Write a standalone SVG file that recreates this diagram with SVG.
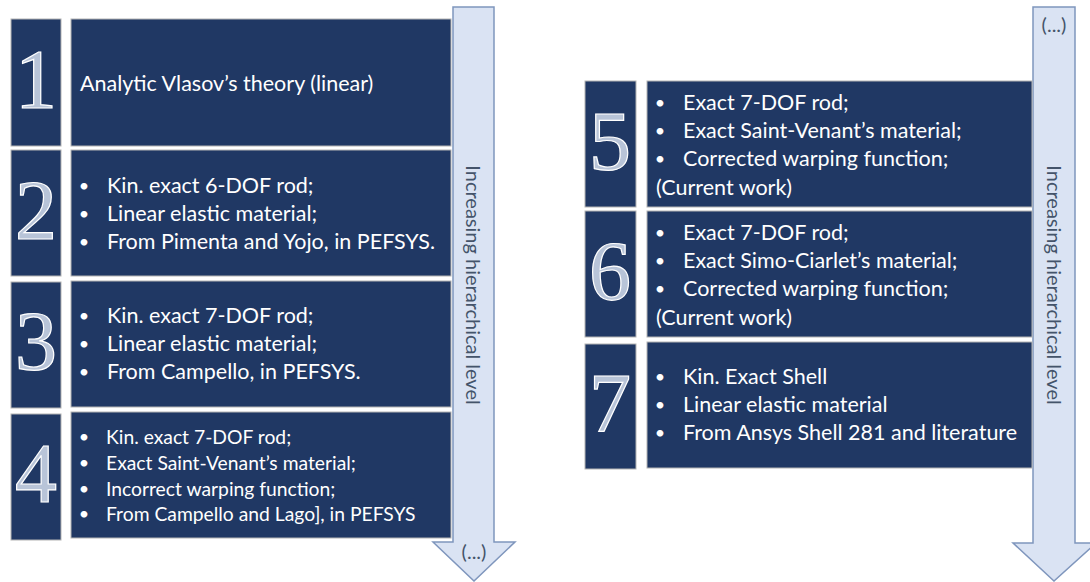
<svg xmlns="http://www.w3.org/2000/svg" width="1090" height="582" viewBox="0 0 1090 582">
<style>
.box{fill:#203864;stroke:#b4b4b4;stroke-width:1}
.num{font-family:"Liberation Serif",serif;font-size:84px;fill:#b8c4d8;stroke:#ffffff;stroke-width:1.2;text-anchor:middle}
.t{font-family:Lato,"Open Sans",sans-serif;font-size:21.5px;fill:#ffffff}
.s{font-family:Lato,"Open Sans",sans-serif;font-size:19.3px;fill:#ffffff}
.b{font-family:Lato,"Open Sans",sans-serif;font-size:18px;fill:#ffffff;text-anchor:middle}
.arr{fill:#dae3f3;stroke:#7f96bd;stroke-width:1.5}
.at{font-family:Lato,"Open Sans",sans-serif;font-size:20px;fill:#44546a;text-anchor:middle}
</style>
<rect width="1090" height="582" fill="#ffffff"/>
<g id="arrows">
<polygon class="arr" points="453,7 494,7 494,542 515,542 474,581 433,542 453,542"/>
<text class="at" transform="translate(473,285) rotate(90)" y="7">Increasing hierarchical level</text>
<text class="at" x="474" y="559">(...)</text>
<polygon class="arr" points="1033,7 1075,7 1075,543 1096,543 1054,581 1013,543 1033,543"/>
<text class="at" transform="translate(1054,285) rotate(90)" y="7">Increasing hierarchical level</text>
<text class="at" x="1054" y="32">(...)</text>
</g>
<g id="node1">
<rect class="box" x="11" y="19" width="50" height="127"/>
<rect class="box" x="71" y="19" width="380" height="127"/>
<text class="num" x="36" y="108">1</text>
<text class="t" x="80" y="91">Analytic Vlasov’s theory (linear)</text>
</g>
<g id="node2">
<rect class="box" x="11" y="150" width="50" height="126"/>
<rect class="box" x="71" y="150" width="380" height="126"/>
<text class="num" x="36" y="239">2</text>
<text class="b" x="84" y="192">•</text><text class="t" x="107" y="193">Kin. exact 6-DOF rod;</text>
<text class="b" x="84" y="220">•</text><text class="t" x="107" y="221">Linear elastic material;</text>
<text class="b" x="84" y="248">•</text><text class="t" x="107" y="249">From Pimenta and Yojo, in PEFSYS.</text>
</g>
<g id="node3">
<rect class="box" x="11" y="282" width="50" height="126"/>
<rect class="box" x="71" y="281" width="380" height="126"/>
<text class="num" x="36" y="370">3</text>
<text class="b" x="84" y="322">•</text><text class="t" x="107" y="323">Kin. exact 7-DOF rod;</text>
<text class="b" x="84" y="350">•</text><text class="t" x="107" y="351">Linear elastic material;</text>
<text class="b" x="84" y="378">•</text><text class="t" x="107" y="379">From Campello, in PEFSYS.</text>
</g>
<g id="node4">
<rect class="box" x="11" y="414" width="50" height="126"/>
<rect class="box" x="71" y="412" width="380" height="126"/>
<text class="num" x="36" y="502">4</text>
<text class="b" x="84" y="443">•</text><text class="s" x="106" y="444">Kin. exact 7-DOF rod;</text>
<text class="b" x="84" y="469">•</text><text class="s" x="106" y="470">Exact Saint-Venant’s material;</text>
<text class="b" x="84" y="495">•</text><text class="s" x="106" y="496">Incorrect warping function;</text>
<text class="b" x="84" y="520">•</text><text class="s" x="106" y="521">From Campello and Lago], in PEFSYS</text>
</g>
<g id="node5">
<rect class="box" x="585" y="81" width="51" height="126"/>
<rect class="box" x="647" y="81" width="385" height="126"/>
<text class="num" x="610" y="170">5</text>
<text class="b" x="660" y="109">•</text><text class="t" x="683" y="110">Exact 7-DOF rod;</text>
<text class="b" x="660" y="137">•</text><text class="t" x="683" y="138">Exact Saint-Venant’s material;</text>
<text class="b" x="660" y="165">•</text><text class="t" x="683" y="166">Corrected warping function;</text>
<text class="t" x="656" y="195">(Current work)</text>
</g>
<g id="node6">
<rect class="box" x="585" y="211" width="51" height="126"/>
<rect class="box" x="647" y="211" width="385" height="126"/>
<text class="num" x="610" y="300">6</text>
<text class="b" x="660" y="239">•</text><text class="t" x="683" y="240">Exact 7-DOF rod;</text>
<text class="b" x="660" y="267">•</text><text class="t" x="683" y="268">Exact Simo-Ciarlet’s material;</text>
<text class="b" x="660" y="295">•</text><text class="t" x="683" y="296">Corrected warping function;</text>
<text class="t" x="656" y="325">(Current work)</text>
</g>
<g id="node7">
<rect class="box" x="585" y="344" width="51" height="125"/>
<rect class="box" x="647" y="342" width="385" height="126"/>
<text class="num" x="610" y="432">7</text>
<text class="b" x="660" y="383">•</text><text class="t" x="683" y="384">Kin. Exact Shell</text>
<text class="b" x="660" y="411">•</text><text class="t" x="683" y="412">Linear elastic material</text>
<text class="b" x="660" y="439">•</text><text class="t" x="683" y="440">From Ansys Shell 281 and literature</text>
</g>
</svg>
